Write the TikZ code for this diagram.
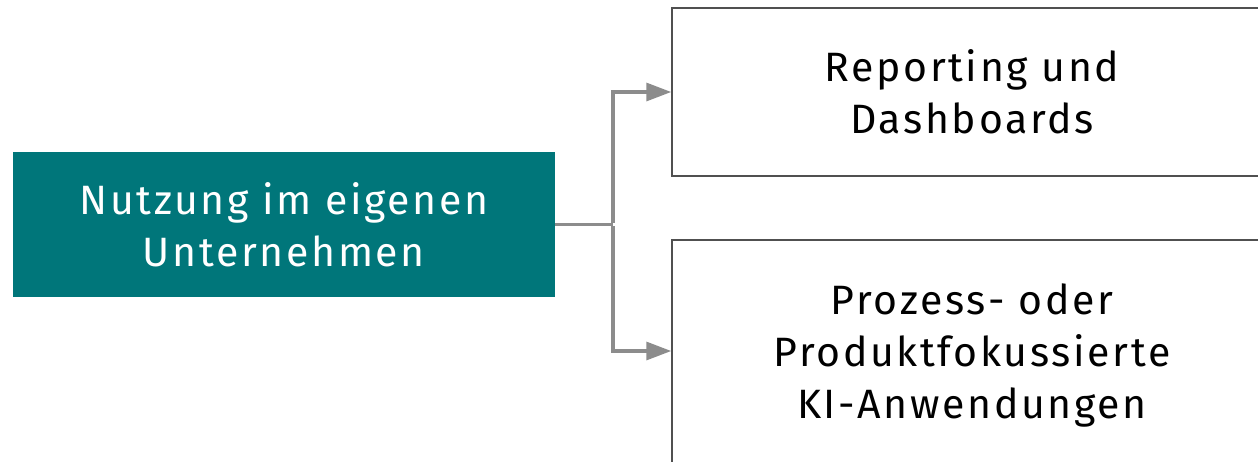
\documentclass[tikz,border=0pt]{standalone}
\usepackage{fontspec}
\setmainfont[LetterSpace=6.5]{Fira Sans}
\usetikzlibrary{arrows.meta}
\definecolor{teal1}{HTML}{00767A}
\definecolor{conn}{HTML}{8C8C8C}
\definecolor{edge}{HTML}{505050}
\tikzset{
  txt/.style={font=\fontsize{41}{52}\selectfont, align=center, inner sep=0pt},
  mainbox/.style={txt, fill=teal1, text=white, minimum width=542pt, minimum height=145pt},
  outbox/.style={txt, draw=edge, line width=1.5pt, fill=white, text=black, minimum width=600pt},
  link/.style={draw=conn, line width=3.3pt},
  arr/.style={link, -{Triangle[length=25pt,width=18pt]}}
}
\begin{document}
\begin{tikzpicture}[x=1pt,y=-1pt]
\useasboundingbox (0,0) rectangle (1258,461);
\clip (0,0) rectangle (1258,461);
\node[mainbox] (main) at (284,224.5) {Nutzung im eigenen\\Unternehmen};
\node[outbox, minimum height=168pt] (top) at (972,92) {Reporting und\\Dashboards};
\node[outbox, minimum height=230pt] (bot) at (972,355) {Prozess- oder\\Produktfokussierte\\KI-Anwendungen};
\coordinate (j) at (613,224.5);
\draw[link] (main.east) -- (j);
\draw[arr] ([yshift=1.65pt]j) |- (top.west);
\draw[arr] ([yshift=-1.65pt]j) |- ([yshift=4pt]bot.west);
\end{tikzpicture}
\end{document}
